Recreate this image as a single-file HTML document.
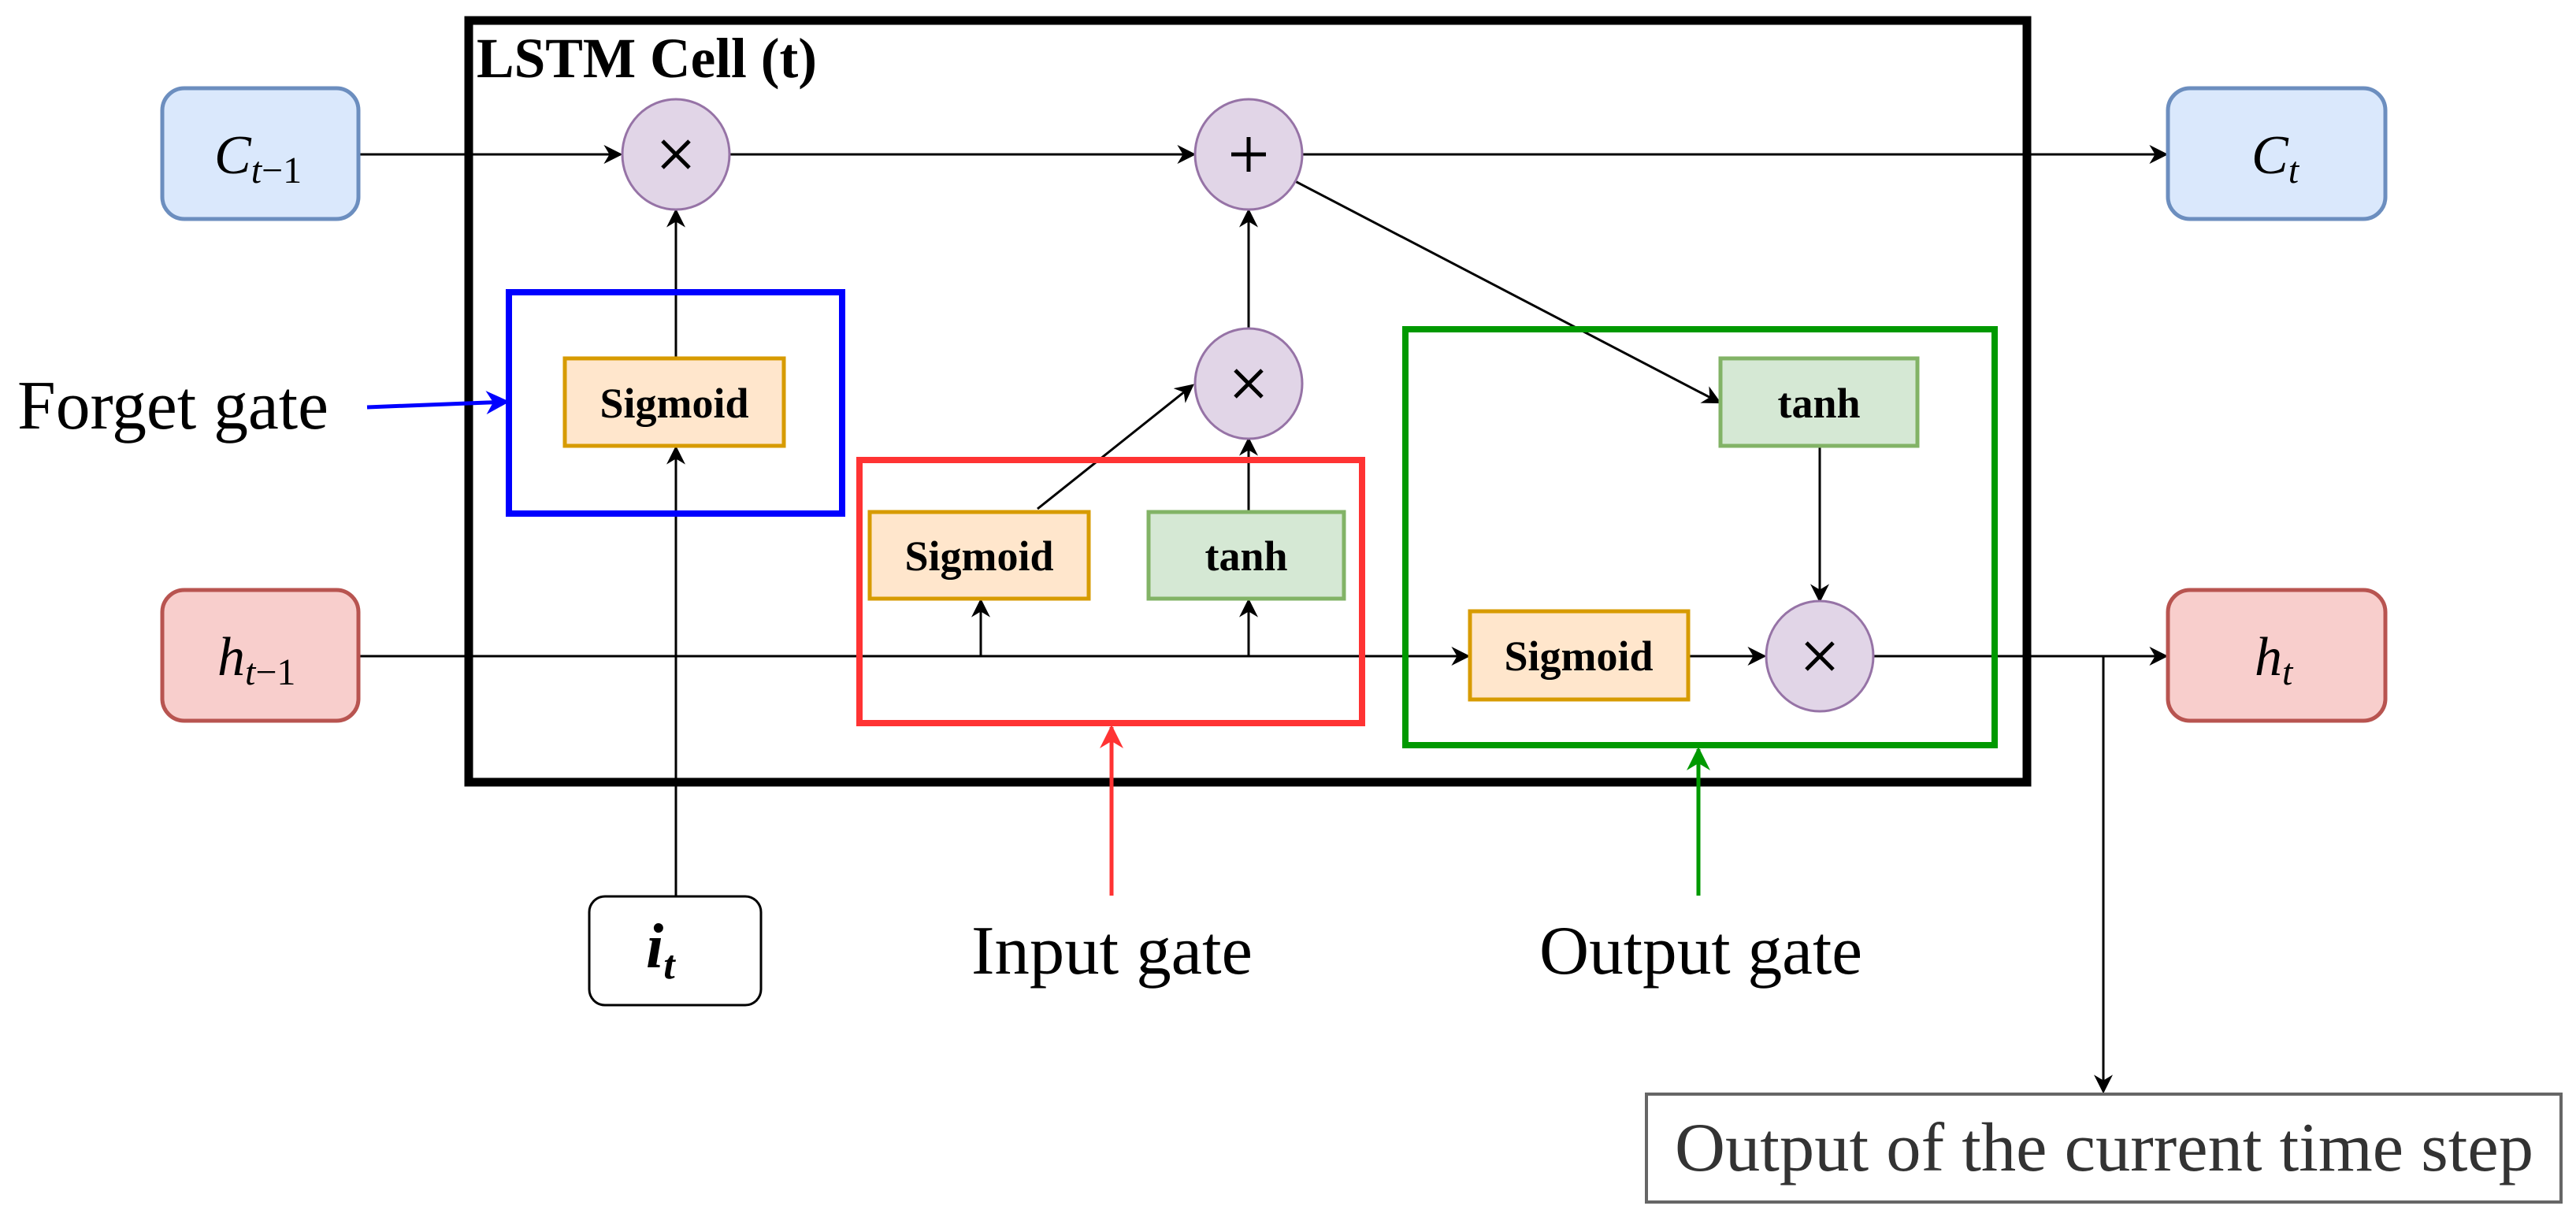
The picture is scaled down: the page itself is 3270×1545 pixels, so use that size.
<!DOCTYPE html>
<html><head><meta charset="utf-8"><style>html,body{margin:0;padding:0;background:#fff}svg{display:block}</style></head>
<body>
<svg width="3270" height="1545" viewBox="0 0 3270 1545" xmlns="http://www.w3.org/2000/svg" font-family="'Liberation Serif', serif">
<defs>
<marker id="ab" viewBox="0 0 10 10" refX="9" refY="5" markerWidth="24" markerHeight="24" orient="auto" markerUnits="userSpaceOnUse"><path d="M0,0 L10,5 L0,10 L3,5 Z" fill="#000"/></marker>
<marker id="abl" viewBox="0 0 10 10" refX="9" refY="5" markerWidth="30" markerHeight="30" orient="auto" markerUnits="userSpaceOnUse"><path d="M0,0 L10,5 L0,10 L3,5 Z" fill="#0000ff"/></marker>
<marker id="ar" viewBox="0 0 10 10" refX="9" refY="5" markerWidth="30" markerHeight="30" orient="auto" markerUnits="userSpaceOnUse"><path d="M0,0 L10,5 L0,10 L3,5 Z" fill="#ff3333"/></marker>
<marker id="ag" viewBox="0 0 10 10" refX="9" refY="5" markerWidth="30" markerHeight="30" orient="auto" markerUnits="userSpaceOnUse"><path d="M0,0 L10,5 L0,10 L3,5 Z" fill="#009900"/></marker>
</defs>

<rect x="595" y="26" width="1978" height="967" fill="none" stroke="#000" stroke-width="11"/>
<text x="605" y="98" font-size="72" font-weight="bold" textLength="432" lengthAdjust="spacingAndGlyphs">LSTM Cell (t)</text>

<g stroke="#000" stroke-width="3" fill="none">
<line x1="456" y1="196" x2="788" y2="196" marker-end="url(#ab)"/>
<line x1="926" y1="196" x2="1516" y2="196" marker-end="url(#ab)"/>
<line x1="1654" y1="196" x2="2750" y2="196" marker-end="url(#ab)"/>
<line x1="1644" y1="230" x2="2183" y2="511" marker-end="url(#ab)"/>
<line x1="858" y1="454" x2="858" y2="267" marker-end="url(#ab)"/>
<line x1="858" y1="1137" x2="858" y2="568" marker-end="url(#ab)"/>
<line x1="1585" y1="418" x2="1585" y2="267" marker-end="url(#ab)"/>
<line x1="1585" y1="648" x2="1585" y2="557" marker-end="url(#ab)"/>
<line x1="1317" y1="646" x2="1514" y2="489" marker-end="url(#ab)"/>
<line x1="456" y1="833" x2="1864" y2="833" marker-end="url(#ab)"/>
<line x1="1245" y1="833" x2="1245" y2="762" marker-end="url(#ab)"/>
<line x1="1585" y1="833" x2="1585" y2="762" marker-end="url(#ab)"/>
<line x1="2144" y1="833" x2="2240" y2="833" marker-end="url(#ab)"/>
<line x1="2310" y1="567" x2="2310" y2="763" marker-end="url(#ab)"/>
<line x1="2379" y1="833" x2="2750" y2="833" marker-end="url(#ab)"/>
<line x1="2670" y1="833" x2="2670" y2="1386" marker-end="url(#ab)"/>
</g>

<rect x="646" y="371" width="423" height="281" fill="none" stroke="#0000ff" stroke-width="8"/>
<rect x="1091" y="584" width="638" height="334" fill="none" stroke="#ff3333" stroke-width="8"/>
<rect x="1784" y="418" width="748" height="528" fill="none" stroke="#009900" stroke-width="8"/>

<line x1="466" y1="517" x2="644" y2="510" stroke="#0000ff" stroke-width="5" marker-end="url(#abl)"/>
<line x1="1411" y1="1137" x2="1411" y2="923" stroke="#ff3333" stroke-width="5" marker-end="url(#ar)"/>
<line x1="2156" y1="1137" x2="2156" y2="951" stroke="#009900" stroke-width="5" marker-end="url(#ag)"/>

<rect x="206" y="112" width="249" height="166" rx="28" fill="#dae8fc" stroke="#6c8ebf" stroke-width="5"/>
<text x="272" y="220" font-size="70" font-style="italic">C<tspan font-size="48" dy="12">t</tspan><tspan font-size="48" font-style="normal">−1</tspan></text>
<rect x="206" y="749" width="249" height="166" rx="28" fill="#f8cecc" stroke="#b85450" stroke-width="5"/>
<text x="276" y="857" font-size="70" font-style="italic">h<tspan font-size="48" dy="12">t</tspan><tspan font-size="48" font-style="normal">−1</tspan></text>
<rect x="2752" y="112" width="276" height="166" rx="28" fill="#dae8fc" stroke="#6c8ebf" stroke-width="5"/>
<text x="2858" y="220" font-size="70" font-style="italic">C<tspan font-size="48" dy="12">t</tspan></text>
<rect x="2752" y="749" width="276" height="166" rx="28" fill="#f8cecc" stroke="#b85450" stroke-width="5"/>
<text x="2862" y="857" font-size="70" font-style="italic">h<tspan font-size="48" dy="12">t</tspan></text>
<rect x="748" y="1138" width="218" height="138" rx="20" fill="#fff" stroke="#000" stroke-width="3"/>
<text x="820" y="1228" font-size="80" font-style="italic" font-weight="bold">i<tspan font-size="52" dy="14">t</tspan></text>

<g fill="#e1d5e7" stroke="#9673a6" stroke-width="3">
<ellipse cx="858" cy="196" rx="68" ry="70"/>
<ellipse cx="1585" cy="196" rx="68" ry="70"/>
<ellipse cx="1585" cy="487" rx="68" ry="70"/>
<ellipse cx="2310" cy="833" rx="68" ry="70"/>
</g>
<g stroke="#000" stroke-width="5">
<line x1="841" y1="179" x2="875" y2="213"/><line x1="875" y1="179" x2="841" y2="213"/>
<line x1="1568" y1="470" x2="1602" y2="504"/><line x1="1602" y1="470" x2="1568" y2="504"/>
<line x1="2293" y1="816" x2="2327" y2="850"/><line x1="2327" y1="816" x2="2293" y2="850"/>
<line x1="1585" y1="174" x2="1585" y2="218"/><line x1="1563" y1="196" x2="1607" y2="196"/>
</g>

<g stroke-width="5">
<rect x="717" y="455" width="278" height="111" fill="#ffe6cc" stroke="#d79b00"/>
<rect x="1104" y="650" width="278" height="110" fill="#ffe6cc" stroke="#d79b00"/>
<rect x="1458" y="650" width="248" height="110" fill="#d5e8d4" stroke="#82b366"/>
<rect x="2184" y="455" width="250" height="111" fill="#d5e8d4" stroke="#82b366"/>
<rect x="1866" y="776" width="277" height="112" fill="#ffe6cc" stroke="#d79b00"/>
</g>
<g font-size="54" font-weight="bold" text-anchor="middle">
<text x="856" y="530">Sigmoid</text>
<text x="1243" y="724">Sigmoid</text>
<text x="1582" y="724">tanh</text>
<text x="2309" y="530">tanh</text>
<text x="2004" y="851">Sigmoid</text>
</g>

<text x="22" y="544" font-size="88" textLength="395" lengthAdjust="spacingAndGlyphs">Forget gate</text>
<text x="1233" y="1236" font-size="88" textLength="357" lengthAdjust="spacingAndGlyphs">Input gate</text>
<text x="1954" y="1236" font-size="88" textLength="410" lengthAdjust="spacingAndGlyphs">Output gate</text>

<rect x="2090" y="1389" width="1161" height="137" fill="#fff" stroke="#666" stroke-width="4"/>
<text x="2126" y="1486" font-size="88" fill="#333" textLength="1090" lengthAdjust="spacingAndGlyphs">Output of the current time step</text>
</svg>
</body></html>
